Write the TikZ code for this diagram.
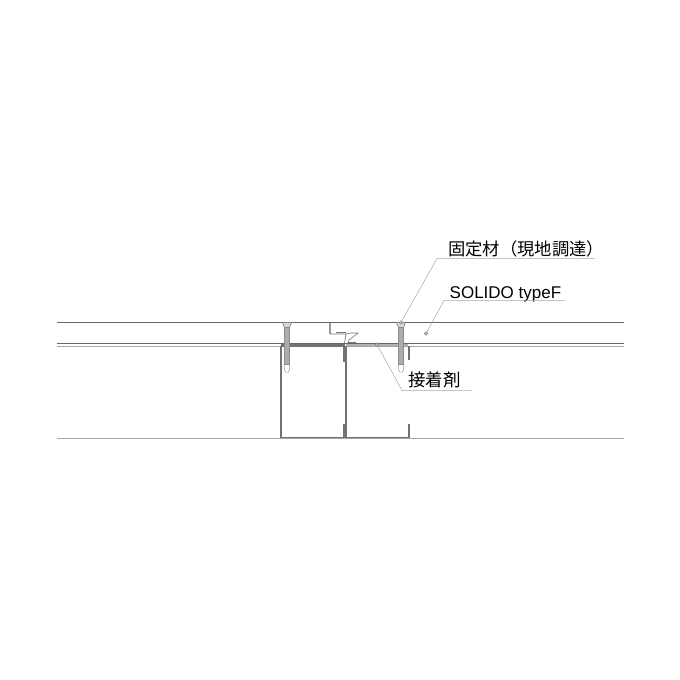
\documentclass[tikz,border=0pt]{standalone}
\usepackage{fontspec}
\setmainfont{Liberation Sans}
\newfontfamily\cjk{Noto Sans CJK JP}
\usetikzlibrary{positioning,calc,patterns}
\tikzset{
    slab/.style={draw=black!60,line width=1pt},
    slablight/.style={draw=black!35,line width=0.9pt},
    stud/.style={draw=black!55,line width=1.5pt},
    leader/.style={draw=black!35,line width=0.5pt},
    mark dot/.style={circle,draw=black!50,fill=black!20,inner sep=0pt,minimum size=3.5pt,line width=0.4pt},
    screwshaft/.style={draw=black!45,fill=black!32,line width=0.5pt},
    label text/.style={anchor=base west,inner sep=0pt,text=black}
}
\newcommand{\screwat}[1]{%
    \draw[black!50,line width=0.7pt,fill=black!15] (#1-4.5,322.5) -- (#1+4.5,322.5) -- (#1+2.5,327.5) -- (#1-2.5,327.5) -- cycle;
    \draw[screwshaft] (#1-2.5,327.5) rectangle (#1+2.5,364);
    \draw[black!40,line width=0.5pt] (#1-2.5,364) -- (#1-2.5,370) -- (#1-1.2,372) -- (#1+1.2,372) -- (#1+2.5,370) -- (#1+2.5,364);
}
\begin{document}
\begin{tikzpicture}[x=1pt,y=-1pt]
    \useasboundingbox (0,0) rectangle (680,680);

    % Panel lines
    \draw[slab] (57,322.5) -- (624,322.5);
    \draw[slab] (57,343.5) -- (624,343.5);
    \draw[slablight] (57,346.5) -- (624,346.5);
    \draw[slablight] (57,438.5) -- (624,438.5);

    % Left channel
    \draw[stud] (281,346) -- (281,437.5) -- (344,437.5) -- (344,424);
    \draw[black!55,line width=2.6pt] (281,345.5) -- (345,345.5);
    \draw[black!55,line width=2.6pt] (344,346) -- (344,362);

    % Right channel
    \draw[stud] (346,346) -- (346,437.5) -- (409,437.5) -- (409,424);
    \draw[stud] (409,346) -- (409,360);

    % Adhesive layer
    \draw[black!30,line width=2.4pt] (346,345) -- (408,345);

    % Screws
    \screwat{287}
    \screwat{401}

    % Joint piece
    \draw[black!40,line width=1.1pt] (330,322.5) -- (330,334);
    \draw[black!55,line width=0.6pt] (330,334) -- (346,334) -- (344.5,343);
    \draw[black!55,line width=0.6pt] (336,332.5) -- (346,332.5);
    \draw[black!55,line width=0.6pt] (346,334) -- (350,333) -- (358,333) -- (349,340) -- (348,342.5) -- (356,342.5);

    % Markers
    \node[mark dot] (screwdot) at (401,322.5) {};
    \node[mark dot] (panedot) at (426,333.5) {};
    \node[mark dot] (gluedot) at (377,344.5) {};

    % Labels
    \node[label text,font=\cjk\fontsize{17.3}{17.3}\selectfont] (fixlabel) at (448,255) {固定材（現地調達）};
    \node[label text,font=\fontsize{17}{17}\selectfont] (typelabel) at (449.5,298) {SOLIDO typeF};
    \node[label text,font=\cjk\fontsize{17.5}{17.5}\selectfont] (gluelabel) at (408,386) {接着剤};

    % Leaders
    \coordinate (fixbend) at (437,258.5);
    \coordinate (fixend) at (595,258.5);
    \coordinate (typebend) at (444,300.5);
    \coordinate (typeend) at (565,300.5);
    \coordinate (gluebend) at (402,390.5);
    \coordinate (glueend) at (472,390.5);
    \draw[leader] (screwdot) -- (fixbend) -- (fixend);
    \draw[leader] (panedot) -- (typebend) -- (typeend);
    \draw[leader] (gluedot) -- (gluebend) -- (glueend);
\end{tikzpicture}
\end{document}
